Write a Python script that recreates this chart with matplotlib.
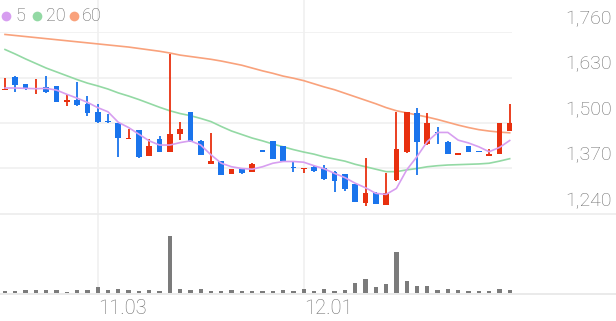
import matplotlib
matplotlib.use("Agg")
import matplotlib.pyplot as plt
import matplotlib.transforms as mtransforms
from matplotlib.lines import Line2D
import numpy as np

plt.rcParams['font.family'] = ['Roboto', 'DejaVu Sans']

# ---------------- data ----------------
opens  = [1594, 1632, 1610, 1598, 1602, 1605, 1561, 1565, 1553, 1531,
          1506, 1500, 1453, 1479, 1407, 1454, 1418, 1468, 1530, 1449,
          1383, 1390, 1354, 1369, 1360, 1423, 1449, 1435, 1374, 1369,
          1374, 1372, 1361, 1353, 1325, 1271, 1301, 1266, 1337, 1418,
          1528, 1439, 1475, 1447, 1409, 1435, 1420, 1406, 1412, 1477]
highs  = [1630, 1633, 1611, 1625, 1634, 1606, 1583, 1616, 1578, 1555,
          1527, 1501, 1483, 1480, 1453, 1464, 1698, 1502, 1531, 1450,
          1471, 1391, 1369, 1370, 1387, 1423, 1449, 1435, 1390, 1372,
          1378, 1380, 1362, 1354, 1326, 1399, 1302, 1356, 1532, 1532,
          1544, 1528, 1490, 1448, 1415, 1435, 1420, 1425, 1501, 1554]
lows   = [1593, 1588, 1593, 1582, 1587, 1560, 1550, 1550, 1519, 1501,
          1501, 1404, 1453, 1401, 1406, 1417, 1417, 1452, 1446, 1408,
          1383, 1350, 1353, 1355, 1359, 1417, 1397, 1390, 1359, 1356,
          1359, 1337, 1304, 1307, 1273, 1263, 1268, 1266, 1334, 1413,
          1350, 1437, 1440, 1412, 1409, 1416, 1416, 1406, 1412, 1477]
closes = [1598, 1609, 1599, 1601, 1589, 1560, 1566, 1551, 1528, 1504,
          1503, 1458, 1456, 1402, 1435, 1418, 1468, 1482, 1447, 1409,
          1392, 1352, 1369, 1356, 1382, 1417, 1397, 1390, 1371, 1372,
          1364, 1340, 1335, 1312, 1275, 1301, 1268, 1299, 1425, 1530,
          1447, 1499, 1472, 1412, 1415, 1416, 1416, 1412, 1501, 1501]
ma5    = [1600, 1600, 1599, 1598, 1599, 1594, 1582, 1571, 1559, 1544,
          1532, 1502, 1487, 1468, 1449, 1437, 1437, 1444, 1449, 1437,
          1409, 1385, 1375, 1370, 1368, 1375, 1385, 1390, 1390, 1388,
          1378, 1369, 1356, 1344, 1328, 1315, 1299, 1296, 1313, 1366,
          1404, 1447, 1473, 1473, 1451, 1443, 1432, 1418, 1430, 1450]
ma20   = [1710, 1697, 1683, 1670, 1657, 1646, 1635, 1624, 1614, 1606,
          1597, 1586, 1577, 1567, 1556, 1545, 1535, 1527, 1521, 1513,
          1504, 1490, 1477, 1467, 1457, 1449, 1440, 1432, 1424, 1417,
          1411, 1403, 1397, 1391, 1382, 1375, 1368, 1361, 1361, 1366,
          1370, 1375, 1378, 1380, 1381, 1382, 1383, 1385, 1391, 1398]
ma60   = [1753, 1750, 1747, 1744, 1741, 1738, 1735, 1732, 1729, 1726,
          1723, 1720, 1717, 1713, 1709, 1705, 1700, 1694, 1690, 1686,
          1682, 1677, 1671, 1665, 1657, 1649, 1642, 1634, 1628, 1621,
          1612, 1603, 1595, 1585, 1575, 1565, 1555, 1544, 1535, 1529,
          1523, 1517, 1510, 1502, 1494, 1487, 1481, 1477, 1474, 1472]
volume = [50, 50, 80, 100, 100, 100, 40, 80, 100, 180,
          80, 130, 100, 70, 100, 60, 1720, 120, 100, 130,
          70, 70, 80, 60, 70, 60, 50, 80, 70, 120,
          50, 120, 50, 100, 300, 430, 170, 280, 1230, 350,
          220, 200, 100, 120, 80, 70, 50, 50, 130, 100]
price_ticks = [1240, 1370, 1500, 1630, 1760]
date_ticks = [9, 29]
date_labels = ['11.03', '12.01']
ma_labels = ['5', '20', '60']

# ---------------- style ----------------
RED = '#e8300f'
BLUE = '#1a74ec'
C5, C20, C60 = '#d79ef0', '#93d9a4', '#f9a27c'
GRID = '#f0f0f0'
TXT = '#6e6e6e'

W, H = 616, 321
fig = plt.figure(figsize=(W / 100, H / 100), dpi=100)

def frac(x0, y0, x1, y1):
    return [x0 / W, 1 - y1 / H, (x1 - x0) / W, (y1 - y0) / H]

ax = fig.add_axes(frac(0, 32, 512, 214))
axv = fig.add_axes(frac(0, 214, 512, 293))
n = len(closes)
x = np.arange(n)
xlim = (-5 / 10.3, (512 - 5) / 10.3)
for a in (ax, axv):
    a.set_xlim(*xlim)
    a.axis('off')
ax.set_ylim(1240, 1760)
axv.set_ylim(0, 2370)

# horizontal gridlines
for p in price_ticks[1:]:
    ax.axhline(p, color=GRID, lw=1.2, zorder=0)
# vertical gridlines
top_ext = 1 + 32 / 182
for d in date_ticks:
    ax.axvline(d, ymin=0, ymax=top_ext, color=GRID, lw=1.2, zorder=0, clip_on=False)
    axv.axvline(d, color=GRID, lw=1.2, zorder=0)
# full width separators
fig.add_artist(Line2D([0, 1], [1 - 214 / H, 1 - 214 / H], transform=fig.transFigure, color='#ececec', lw=1.2))
fig.add_artist(Line2D([0, 1], [1 - 293.5 / H, 1 - 293.5 / H], transform=fig.transFigure, color='#e6e6e6', lw=1.2))

# MA lines
ax.plot(x, ma60, color=C60, lw=1.2, zorder=2)
ax.plot(x, ma20, color=C20, lw=1.2, zorder=2)

# candles
for i in range(n):
    o, h, l, c = opens[i], highs[i], lows[i], closes[i]
    col = RED if c >= o else BLUE
    ax.vlines(i, l, h, color=col, lw=1.3, zorder=3)
    lo = min(o, c)
    ht = max(abs(c - o), 3)
    ax.bar(i, ht, bottom=lo, width=0.55, color=col, zorder=4, linewidth=0)

ax.plot(x, ma5, color=C5, lw=1.2, zorder=5)

# volume
axv.bar(x, volume, width=0.42, color='#7b7b7b', linewidth=0, zorder=3)

# price labels
trans = mtransforms.blended_transform_factory(fig.transFigure, ax.transData)
trans = trans + mtransforms.ScaledTranslation(0, 13 / 100, fig.dpi_scale_trans)
for p in price_ticks:
    ax.text(612 / W, p, f'{p:,}', transform=trans, ha='right', va='center',
            fontsize=14, color=TXT, fontweight='light', clip_on=False)

# date labels
dtrans = mtransforms.blended_transform_factory(axv.transData, axv.transAxes)
dtrans = dtrans + mtransforms.ScaledTranslation(0, -15 / 100, fig.dpi_scale_trans)
for d, lab in zip(date_ticks, date_labels):
    axv.text(d, 0, lab, transform=dtrans, ha='left', va='center',
             fontsize=14.5, color=TXT, fontweight='light', clip_on=False)

# legend
leg_y = 1 - 16 / H
for cx, tx, col, lab in [(5.5, 15, C5, ma_labels[0]), (37, 46, C20, ma_labels[1]), (74, 82, C60, ma_labels[2])]:
    fig.add_artist(Line2D([cx / W], [leg_y], marker='o', markersize=7, color=col,
                          markeredgewidth=0, transform=fig.transFigure))
    fig.text(tx / W, leg_y, lab, ha='left', va='center', fontsize=13, color='#666666',
             fontweight='light')

fig.savefig('out.png', dpi=100, facecolor='white')
